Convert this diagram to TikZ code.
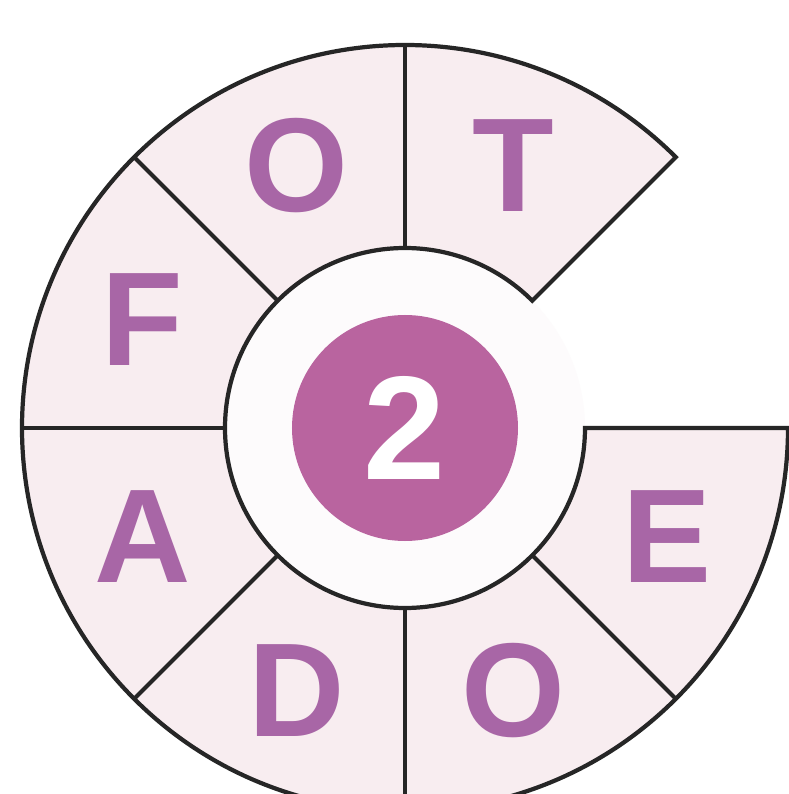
\documentclass[tikz,border=0pt]{standalone}
\usepackage{fontspec}
\setmainfont{Liberation Sans}
\definecolor{ringfill}{HTML}{F8EDF0}
\definecolor{letter}{HTML}{A866A6}
\definecolor{hub}{HTML}{B9649F}
\definecolor{back}{HTML}{FDFBFC}
\tikzset{
  letterstyle/.style={text=letter,font=\fontsize{38}{38}\selectfont\bfseries,inner sep=0pt},
  wheel/.style={line width=1.2pt,draw=black!85}
}
\begin{document}
\begin{tikzpicture}[scale=1]
\useasboundingbox (-4.05,4.28) rectangle (3.84,-3.66);
\clip (-4.05,4.28) rectangle (3.84,-3.66);
\fill[white] (-4.05,4.28) rectangle (3.84,-3.66);
\coordinate (O) at (0,0);
\def\R{3.83}
\def\r{1.80}
% ring without the 0--45 sector
\fill[back] (O) circle (\r);
\draw[wheel,fill=ringfill] (45:\R) arc[start angle=45,end angle=360,radius=\R]
  -- (0:\r) arc[start angle=360,end angle=45,radius=\r] -- cycle;
\foreach \a in {90,135,...,315}{\draw[wheel] (\a:\r) -- (\a:\R);}
% letters
\foreach \t [count=\k] in {T,O,F,A,D,O,E}{
  \node[letterstyle] (L\k) at ({22.5+45*\k}:2.84) {\t};
}
\fill[hub] (O) circle (1.13);
\node[text=white,font=\fontsize{42}{42}\selectfont\bfseries] (N) at (O) {2};
\end{tikzpicture}
\end{document}
